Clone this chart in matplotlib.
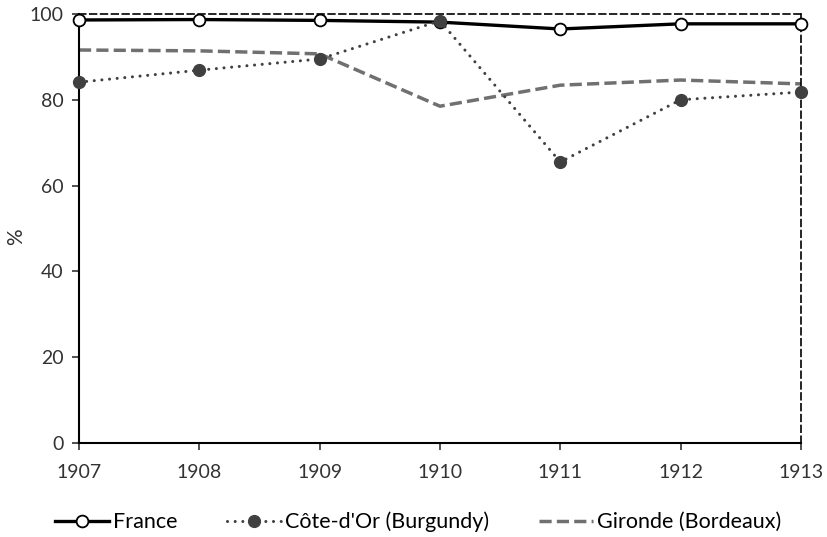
import matplotlib
matplotlib.use('Agg')
import matplotlib.pyplot as plt

plt.rcParams['font.family'] = ['Lato', 'DejaVu Sans']

years = [1907, 1908, 1909, 1910, 1911, 1912, 1913]
france = [98.6, 98.7, 98.5, 98.1, 96.5, 97.7, 97.7]
cote_dor = [84.1, 86.9, 89.5, 98.4, 65.5, 80.0, 81.8]
gironde = [91.6, 91.4, 90.7, 78.5, 83.4, 84.6, 83.7]
labels = ['France', "Côte-d'Or (Burgundy)", 'Gironde (Bordeaux)']

fig = plt.figure(figsize=(8.27, 5.37), dpi=100)
ax = fig.add_axes([0.0955, 0.175, 0.873, 0.799])

ax.plot(years, france, color='black', lw=2.4, marker='o', ms=8.5,
        mfc='white', mec='black', mew=1.3, label=labels[0], zorder=3, clip_on=False)
ax.plot(years, cote_dor, color='#404040', lw=2.2, ls=(0, (0.01, 2.5)), dash_capstyle='round',
        marker='o', ms=8.5, mfc='#404040', mec='#404040', label=labels[1], zorder=4, clip_on=False)
ax.plot(years, gironde, color='#707070', lw=2.5, ls=(0, (3.5, 1.5)),
        label=labels[2], zorder=2)

ax.set_xlim(1907, 1913)
ax.set_ylim(0, 100)
ax.set_xticks(years)
ax.set_yticks(range(0, 101, 20))
ax.tick_params(axis='both', labelsize=14, colors='#333333', length=5, width=1.2, direction='out')
ax.tick_params(axis='x', pad=10)
ax.tick_params(axis='y', pad=6)
ax.set_ylabel('%', fontsize=15, color='#333333', va='center')
ax.yaxis.set_label_coords(-0.087, 0.48)

for s in ['left', 'bottom']:
    ax.spines[s].set_linewidth(1.5)
    ax.spines[s].set_color('black')
for s in ['top', 'right']:
    ax.spines[s].set_linestyle((0, (4, 2.5)))
    ax.spines[s].set_linewidth(1.2)

ax.legend(loc='upper center', bbox_to_anchor=(0.47, -0.115), ncol=3, frameon=False,
          fontsize=15.5, handlelength=2.5, handletextpad=0.2, columnspacing=2.3)

fig.savefig('out.png', dpi=100)
